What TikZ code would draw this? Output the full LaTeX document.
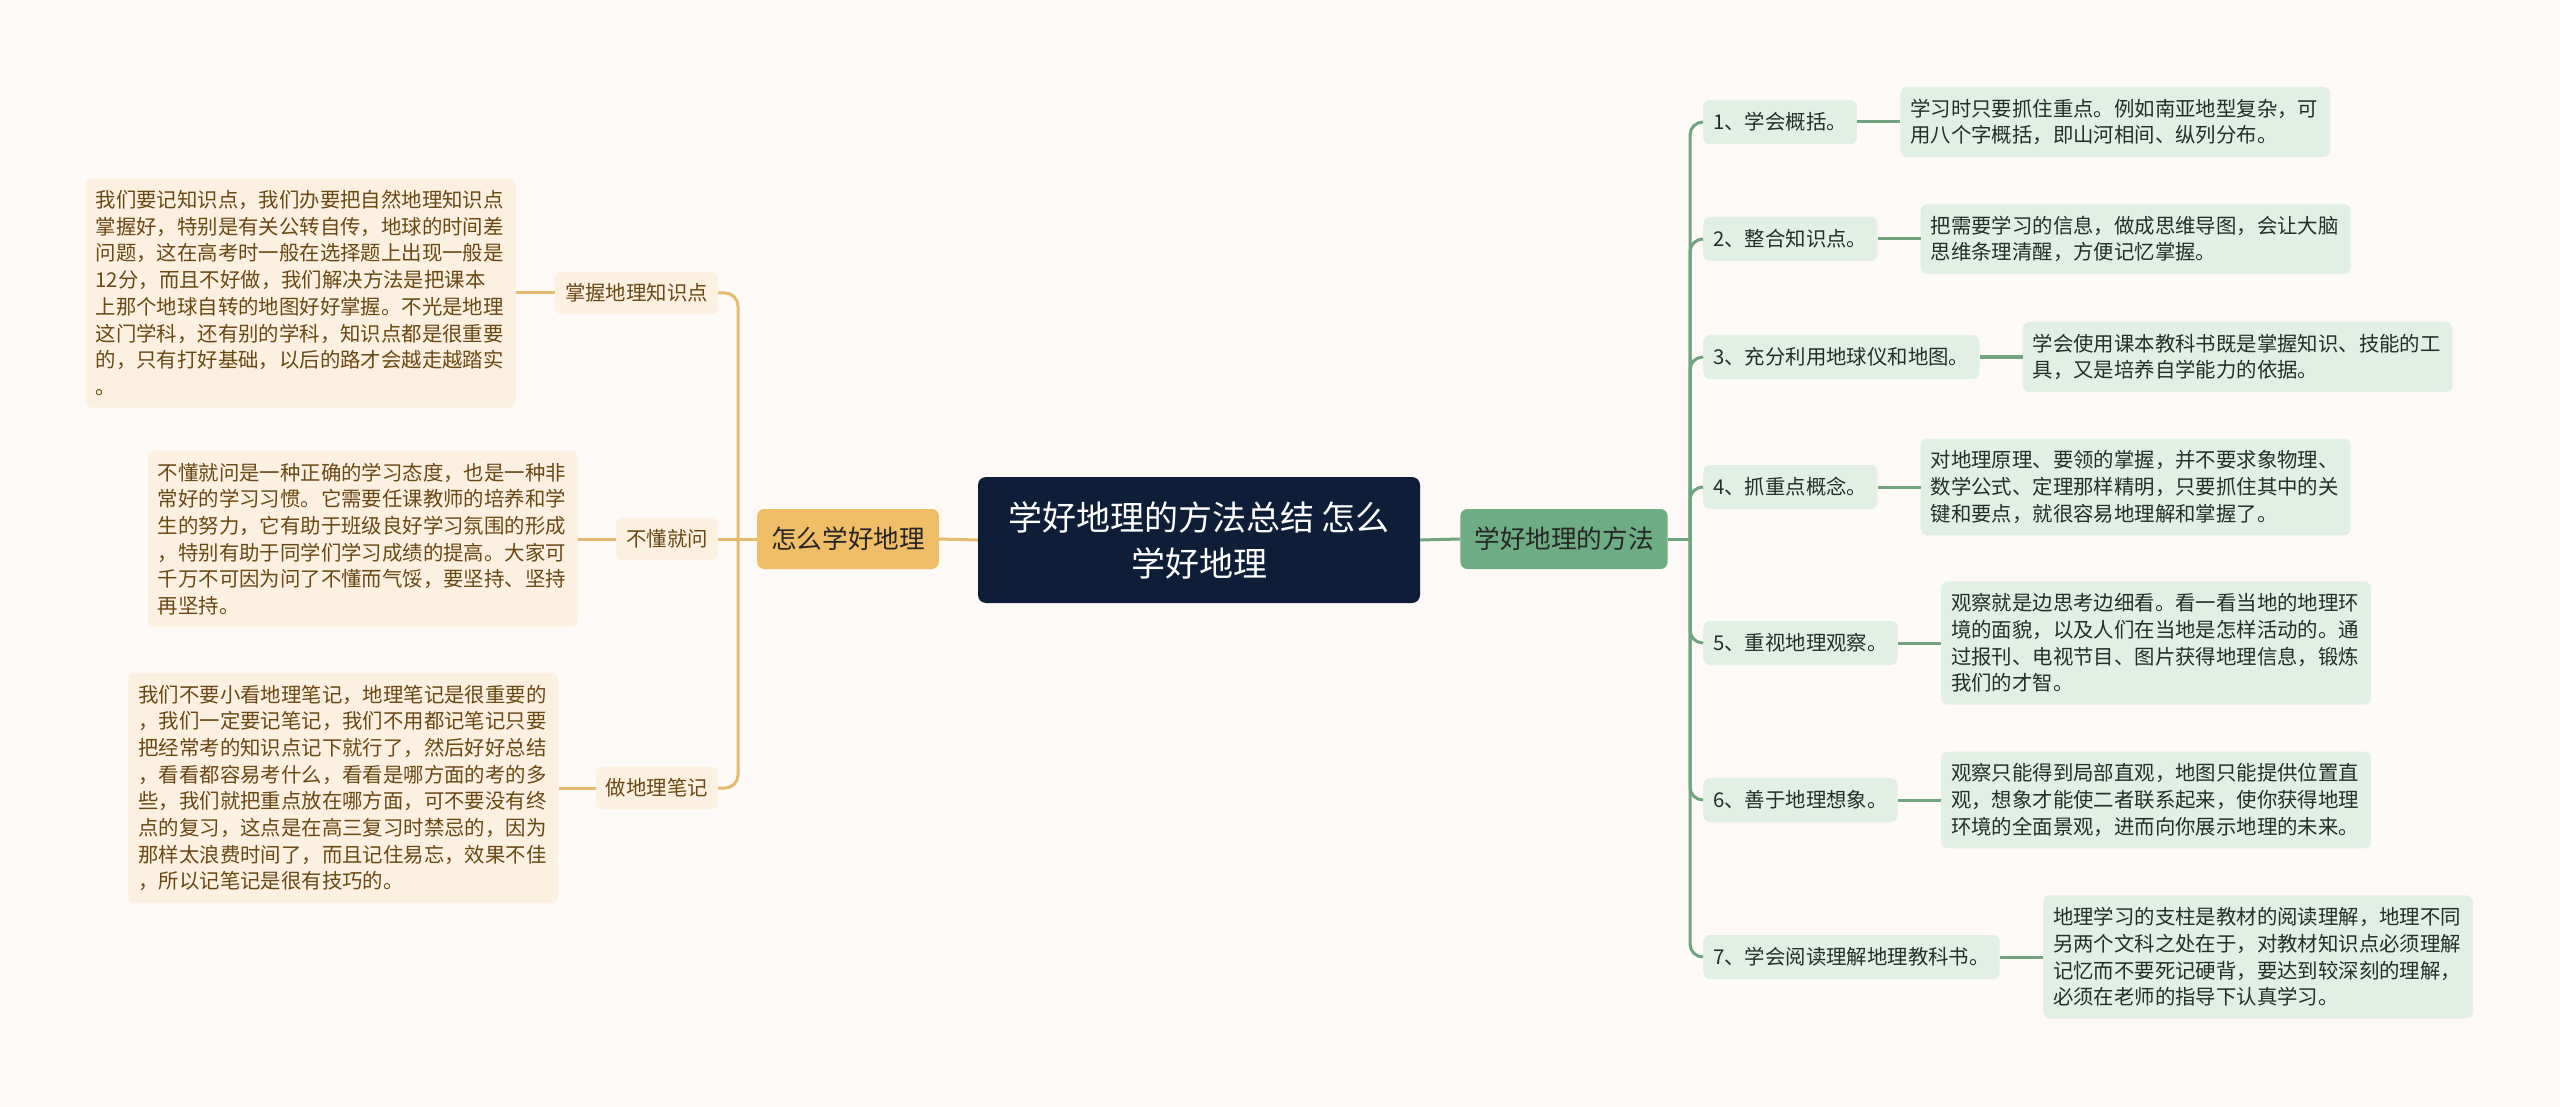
\documentclass[tikz,border=0pt]{standalone}
\usepackage{fontspec}
\setmainfont{Noto Sans CJK SC}
\definecolor{bgc}{HTML}{FCF9F7}
\definecolor{centerfill}{HTML}{0E1E38}
\definecolor{lmainfill}{HTML}{F0BE66}
\definecolor{rmainfill}{HTML}{6EAC83}
\definecolor{lleaffill}{HTML}{FCF1E1}
\definecolor{rleaffill}{HTML}{E2EFE5}
\definecolor{ltext}{HTML}{6A4812}
\definecolor{rtext}{HTML}{22302A}
\definecolor{lline}{HTML}{E6BA6E}
\definecolor{rline}{HTML}{6FA47F}
\tikzset{
  base/.style={rectangle, rounded corners=7pt, inner xsep=10pt, inner ysep=12pt},
  centerbox/.style={base, fill=centerfill, text=white, font=\fontsize{34}{46}\selectfont, align=center, minimum width=442pt, minimum height=126pt, rounded corners=8pt},
  lmainbox/.style={base, fill=lmainfill, text=black!85, font=\fontsize{25.6}{30}\selectfont, inner xsep=14pt, minimum height=60pt},
  rmainbox/.style={base, fill=rmainfill, text=black!85, font=\fontsize{25.6}{30}\selectfont, inner xsep=14pt, minimum height=60pt},
  lsubbox/.style={base, fill=lleaffill, text=ltext, font=\fontsize{20.4}{26.7}\selectfont, minimum height=42pt},
  rsubbox/.style={base, fill=rleaffill, text=rtext, font=\fontsize{20.4}{26.7}\selectfont, minimum height=44pt},
  lleafbox/.style={base, fill=lleaffill, text=ltext, font=\fontsize{20.4}{26.7}\selectfont, align=left, text width=410pt},
  rleafbox/.style={base, fill=rleaffill, text=rtext, font=\fontsize{20.4}{26.7}\selectfont, align=left, text width=410pt},
  lconn/.style={draw=lline, line width=3pt},
  rconn/.style={draw=rline, line width=3pt},
}
\begin{document}
\begin{tikzpicture}[x=1pt,y=-1pt]
\fill[bgc] (0,0) rectangle (2560,1107);
\useasboundingbox (0,0) rectangle (2560,1107);

% trunk points
\coordinate (trunkL) at (738,539);
\coordinate (trunkR) at (1690,539);

% central and main nodes
\node[centerbox] (c) at (1199,540) {学好地理的方法总结 怎么\\学好地理};
\node[lmainbox] (lm) at (848,539) {怎么学好地理};
\node[rmainbox] (rm) at (1564,539) {学好地理的方法};

% left sub nodes
\node[lsubbox, anchor=east] (ls1) at (718,293) {掌握地理知识点};
\node[lsubbox, anchor=east] (ls2) at (718,539) {不懂就问};
\node[lsubbox, anchor=east] (ls3) at (718,788) {做地理笔记};

% left leaves
\node[lleafbox, anchor=east] (l1) at ([xshift=-39pt]ls1.west) {我们要记知识点，我们办要把自然地理知识点\\掌握好，特别是有关公转自传，地球的时间差\\问题，这在高考时一般在选择题上出现一般是\\12分，而且不好做，我们解决方法是把课本\\上那个地球自转的地图好好掌握。不光是地理\\这门学科，还有别的学科，知识点都是很重要\\的，只有打好基础，以后的路才会越走越踏实\\。};
\node[lleafbox, anchor=east] (l2) at ([xshift=-38pt]ls2.west) {不懂就问是一种正确的学习态度，也是一种非\\常好的学习习惯。它需要任课教师的培养和学\\生的努力，它有助于班级良好学习氛围的形成\\，特别有助于同学们学习成绩的提高。大家可\\千万不可因为问了不懂而气馁，要坚持、坚持\\再坚持。};
\node[lleafbox, anchor=east] (l3) at ([xshift=-37pt]ls3.west) {我们不要小看地理笔记，地理笔记是很重要的\\，我们一定要记笔记，我们不用都记笔记只要\\把经常考的知识点记下就行了，然后好好总结\\，看看都容易考什么，看看是哪方面的考的多\\些，我们就把重点放在哪方面，可不要没有终\\点的复习，这点是在高三复习时禁忌的，因为\\那样太浪费时间了，而且记住易忘，效果不佳\\，所以记笔记是很有技巧的。};

% right sub nodes
\node[rsubbox, anchor=west] (s1) at (1703,122) {1、学会概括。};
\node[rsubbox, anchor=west] (s2) at (1703,239) {2、整合知识点。};
\node[rsubbox, anchor=west] (s3) at (1703,357) {3、充分利用地球仪和地图。};
\node[rsubbox, anchor=west] (s4) at (1703,487) {4、抓重点概念。};
\node[rsubbox, anchor=west] (s5) at (1703,643) {5、重视地理观察。};
\node[rsubbox, anchor=west] (s6) at (1703,800) {6、善于地理想象。};
\node[rsubbox, anchor=west] (s7) at (1703,957) {7、学会阅读理解地理教科书。};

% right leaves
\node[rleafbox, anchor=west] (r1) at ([xshift=43pt]s1.east) {学习时只要抓住重点。例如南亚地型复杂，可\\用八个字概括，即山河相间、纵列分布。};
\node[rleafbox, anchor=west] (r2) at ([xshift=43pt]s2.east) {把需要学习的信息，做成思维导图，会让大脑\\思维条理清醒，方便记忆掌握。};
\node[rleafbox, anchor=west] (r3) at ([xshift=43pt]s3.east) {学会使用课本教科书既是掌握知识、技能的工\\具，又是培养自学能力的依据。};
\node[rleafbox, anchor=west] (r4) at ([xshift=43pt]s4.east) {对地理原理、要领的掌握，并不要求象物理、\\数学公式、定理那样精明，只要抓住其中的关\\键和要点，就很容易地理解和掌握了。};
\node[rleafbox, anchor=west] (r5) at ([xshift=43pt]s5.east) {观察就是边思考边细看。看一看当地的地理环\\境的面貌，以及人们在当地是怎样活动的。通\\过报刊、电视节目、图片获得地理信息，锻炼\\我们的才智。};
\node[rleafbox, anchor=west] (r6) at ([xshift=43pt]s6.east) {观察只能得到局部直观，地图只能提供位置直\\观，想象才能使二者联系起来，使你获得地理\\环境的全面景观，进而向你展示地理的未来。};
\node[rleafbox, anchor=west] (r7) at ([xshift=43pt]s7.east) {地理学习的支柱是教材的阅读理解，地理不同\\另两个文科之处在于，对教材知识点必须理解\\记忆而不要死记硬背，要达到较深刻的理解，\\必须在老师的指导下认真学习。};

% connectors
\draw[lconn] (c.west) -- (lm.east);
\draw[rconn] (c.east) -- (rm.west);
\draw[lconn] (lm.west) -- (trunkL);
\draw[lconn, rounded corners=13pt] (trunkL) |- (ls1.east);
\draw[lconn] (trunkL) -- (ls2.east);
\draw[lconn, rounded corners=13pt] (trunkL) |- (ls3.east);
\draw[lconn] (ls1.west) -- (ls1.west -| l1.east);
\draw[lconn] (ls2.west) -- (ls2.west -| l2.east);
\draw[lconn] (ls3.west) -- (ls3.west -| l3.east);
\draw[rconn] (rm.east) -- (trunkR);
\foreach \s in {s1,s2,s3,s4,s5,s6,s7}{
  \draw[rconn, rounded corners=13pt] (trunkR) |- (\s.west);
}
\draw[rconn] (s1.east) -- (s1.east -| r1.west);
\draw[rconn] (s2.east) -- (s2.east -| r2.west);
\draw[rconn] (s3.east) -- (s3.east -| r3.west);
\draw[rconn] (s4.east) -- (s4.east -| r4.west);
\draw[rconn] (s5.east) -- (s5.east -| r5.west);
\draw[rconn] (s6.east) -- (s6.east -| r6.west);
\draw[rconn] (s7.east) -- (s7.east -| r7.west);
\end{tikzpicture}
\end{document}
